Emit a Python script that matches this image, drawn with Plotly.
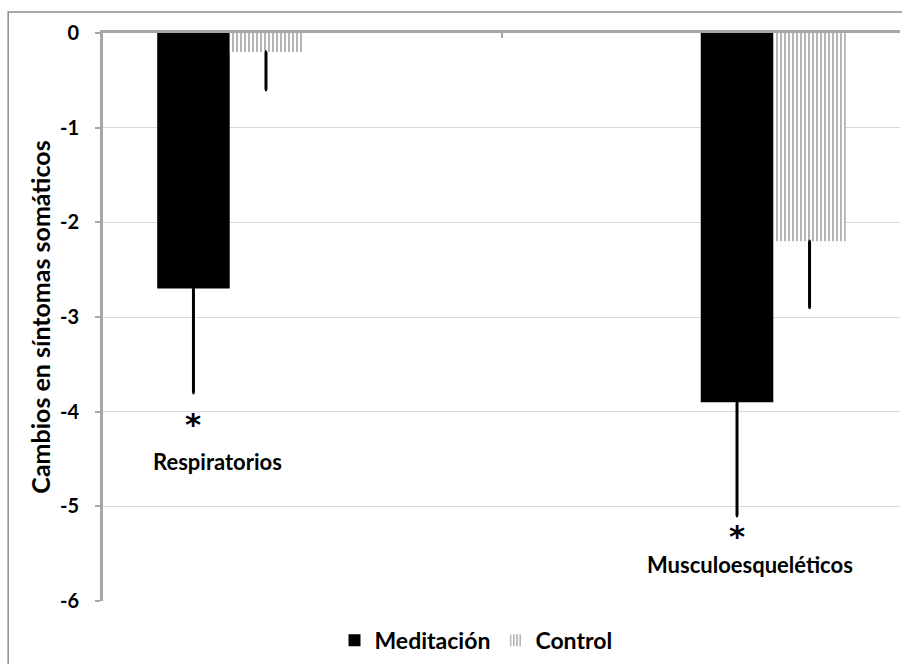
import plotly.graph_objects as go

categories = ["Respiratorios", "Musculoesqueléticos"]
meditacion = [-2.7, -3.9]
meditacion_err = [1.1, 1.2]
control = [-0.2, -2.2]
control_err = [0.4, 0.7]
y_ticks = [0, -1, -2, -3, -4, -5, -6]
star_y = [-4.07, -5.25]
label_y = [-4.53, -5.61]

FONT = "Lato"
W = 0.182
med_offset = [-2 * W, 0.0]
ctl_offset = [-W, W]

fig = go.Figure()
fig.add_trace(go.Bar(
    name="<b>Meditación</b>", x=categories, y=meditacion,
    width=W, offset=med_offset,
    marker=dict(color="black", line=dict(width=0)),
    error_y=dict(type="data", symmetric=False, array=[0, 0], arrayminus=meditacion_err,
                 color="black", thickness=3, width=1),
))
fig.add_trace(go.Bar(
    name="<b>Control</b>", x=categories, y=control,
    width=W, offset=ctl_offset,
    marker=dict(color="white", line=dict(width=0),
                pattern=dict(shape="|", fgcolor="#5a5a5a", bgcolor="white", size=4, solidity=0.45)),
    error_y=dict(type="data", symmetric=False, array=[0, 0], arrayminus=control_err,
                 color="black", thickness=3, width=1),
))

annotations = []
label_dx = [0.06, 0.032]
for i, cat in enumerate(categories):
    xc = i + med_offset[i] + W / 2
    annotations.append(dict(x=xc, y=star_y[i], xref="x", yref="y", text="<b>*</b>",
                            showarrow=False, font=dict(family="DejaVu Sans", size=31, color="black"),
                            yanchor="middle", yshift=-6))
    annotations.append(dict(x=xc + label_dx[i], y=label_y[i], xref="x", yref="y",
                            text="<b>" + cat + "</b>", showarrow=False,
                            font=dict(family=FONT, size=22, color="black"), yanchor="middle"))

fig.update_layout(
    width=902, height=664,
    margin=dict(l=103, r=2, t=33, b=63),
    paper_bgcolor="white", plot_bgcolor="white",
    barmode="overlay",
    font=dict(family=FONT, color="black"),
    showlegend=True,
    legend=dict(orientation="h", x=0.468, xanchor="center", y=-0.069, yanchor="middle",
                font=dict(family=FONT, size=23, color="black"), traceorder="normal",
                itemwidth=30),
    annotations=annotations,
    shapes=[dict(type="rect", xref="paper", yref="paper", x0=-0.119, x1=1.02, y0=-0.2, y1=1.037,
                 line=dict(color="#8c8c8c", width=1.5), fillcolor="rgba(0,0,0,0)", layer="below")],
)
fig.update_xaxes(
    type="category", range=[-0.5, 1.5], side="top",
    showticklabels=False, showgrid=False, zeroline=False,
    showline=True, linecolor="#a6a6a6", linewidth=3,
    ticks="inside", tickson="boundaries", ticklen=5, tickwidth=2, tickcolor="#a6a6a6",
)
fig.update_yaxes(
    range=[-6, 0], tickvals=y_ticks, ticktext=["<b>%d</b>" % v for v in y_ticks],
    tickfont=dict(family=FONT, size=20, color="black"),
    showgrid=True, gridcolor="#d9d9d9", gridwidth=1, zeroline=False,
    showline=True, linecolor="#a6a6a6", linewidth=3,
    ticks="outside", ticklen=5, tickwidth=2, tickcolor="#a6a6a6",
    ticklabelstandoff=12,
    title=dict(text="<b>Cambios en síntomas somáticos</b>", font=dict(family=FONT, size=25, color="black"),
               standoff=3),
    automargin=False,
)

fig.write_html("out.html")
